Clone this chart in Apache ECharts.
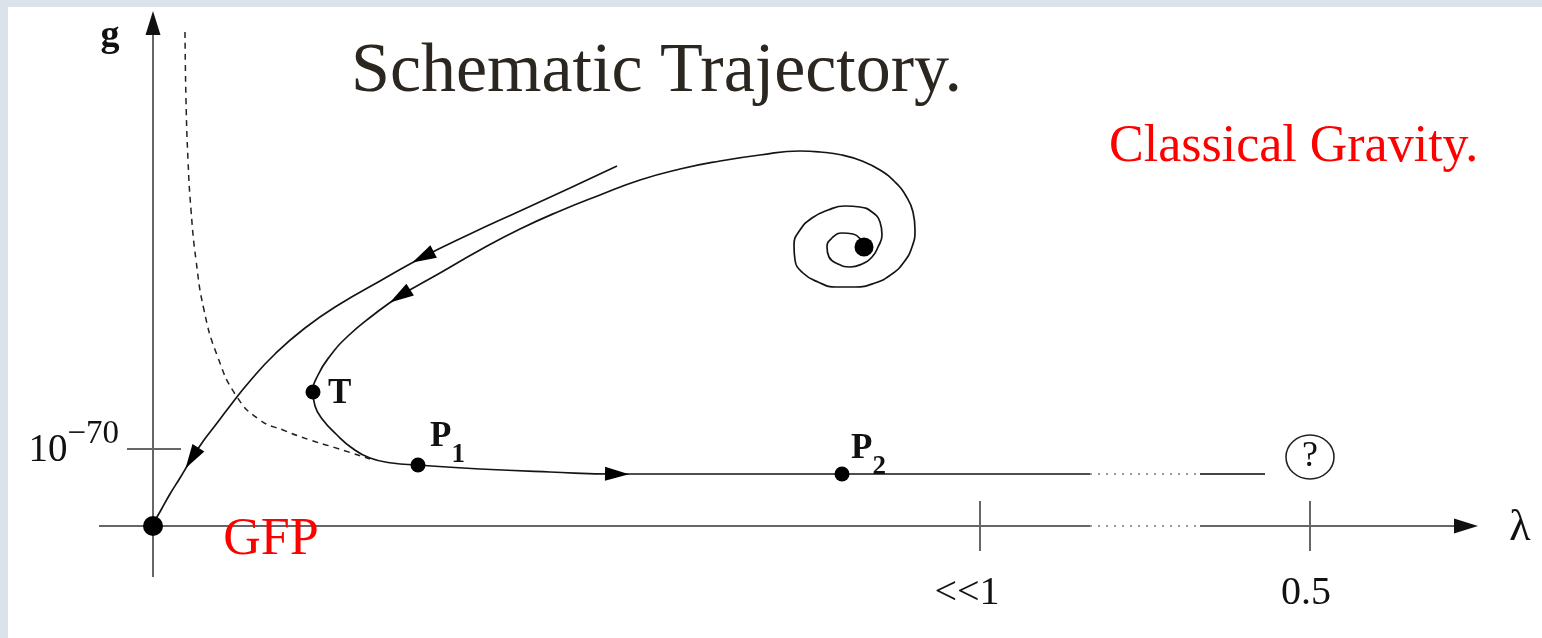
<!DOCTYPE html>
<html>
<head>
<meta charset="utf-8">
<script src="https://cdn.jsdelivr.net/npm/echarts@6/dist/echarts.min.js"></script>
<style>
  html, body { margin: 0; padding: 0; background: #dce2ea; }
  #chart { position: absolute; left: 8px; top: 7px; width: 1534px; height: 631px; background: #ffffff; }
</style>
</head>
<body>
<div id="chart"></div>
<script>
// Flow diagram in the (lambda, g) plane, schematic units with the Gaussian fixed point at the origin.

// Trajectory flowing into the Gaussian fixed point
const outerFlow = [
  [464, 360], [417, 338], [367, 315], [317, 292], [270, 269], [227, 245],
  [187, 222], [152, 198], [122, 172], [97, 145], [77, 120], [61, 99],
  [51, 86], [39, 68], [27, 48], [17, 32], [8, 16], [3, 7], [0, 0]
];

// Trajectory leaving the spiral fixed point, turning at T and running along g ~ const
const innerFlow = [
  [711, 279], [708, 286], [700, 292], [689, 293], [679, 288], [674, 279],
  [676, 269], [685, 262], [697, 259], [709, 262], [719, 269], [725, 279],
  [729, 291], [727, 304], [719, 314], [707, 319], [692, 320], [675, 316],
  [659, 308], [647, 296], [641, 281], [642, 266], [650, 253], [665, 244],
  [683, 239], [702, 239], [722, 243], [739, 252], [751, 264], [759, 279],
  [762, 296], [760, 314], [753, 330], [742, 344], [727, 356], [709, 365],
  [689, 371], [667, 374], [647, 375], [607, 371], [567, 365], [527, 357],
  [487, 346], [447, 331], [407, 315], [367, 297], [327, 276], [287, 253],
  [247, 230], [219, 210], [195, 190], [177, 170], [165, 151], [160, 134],
  [162, 120], [170, 106], [183, 92], [199, 78], [217, 68], [239, 63],
  [265, 61], [327, 57], [397, 54], [464, 52], [547, 52], [689, 52],
  [807, 52], [937, 52]
];
const innerGap = [[937, 52], [1047, 52]];
const innerTail = [[1047, 52], [1112, 52]];

// Separatrix (dashed)
const separatrix = [
  [32, 494], [33, 426], [35, 366], [38, 316], [43, 266], [51, 216],
  [64, 171], [84, 129], [107, 106], [130, 96], [157, 86], [180, 79], [217, 67]
];

// Arrowheads on the trajectories: [curve, point index]
const flowArrows = [['outer', 4], ['outer', 13], ['inner', 48], ['inner', 63]];

// Fixed points and marked points
const fixedPoints = [
  { name: 'GFP', value: [0, 0], size: 20 },
  { name: 'NGFP', value: [711, 279], size: 19 },
  { name: 'T', value: [160, 134], size: 15 },
  { name: 'P1', value: [265, 61], size: 15 },
  { name: 'P2', value: [689, 52], size: 15 }
];

// Axes
const lambdaAxis = [[-54, 0], [937, 0]];
const lambdaGap = [[937, 0], [1047, 0]];
const lambdaTail = [[1047, 0], [1304, 0]];
const gAxis = [[0, -51], [0, 494]];
const lambdaTicks = [{ label: '<<1', x: 827, dx: -13 }, { label: '0.5', x: 1157, dx: -4 }];
const gTick = { y: 77, from: -26, to: 28, label: ['10', '−70'] };
const tickHalf = 25;
const questionMark = [1157, 69];

const curves = { outer: outerFlow, inner: innerFlow };

function heading(pts, i) {
  const a = pts[i - 1], b = pts[i + 1];
  return Math.atan2(b[1] - a[1], b[0] - a[0]) * 180 / Math.PI;
}

const ink = '#141414';
const axisInk = '#666666';
const serif = '"Liberation Serif", "DejaVu Serif", serif';

const arrowData = flowArrows.map(([c, i]) => ({
  value: curves[c][i],
  symbolRotate: heading(curves[c], i) - 90
}));

const axisArrowData = [
  { value: [1313, 0], symbolRotate: -90 },
  { value: [0, 503], symbolRotate: 0 }
];

function seg(data, color, width, type) {
  return {
    type: 'line', data: data, symbol: 'none', silent: true, z: 2,
    lineStyle: { color: color, width: width, type: type || 'solid' }
  };
}

const tickSeries = lambdaTicks.map(t => seg([[t.x, -tickHalf], [t.x, tickHalf]], axisInk, 2));

const pointRich = {
  b: { fontFamily: serif, fontSize: 35, fontWeight: 'bold', lineHeight: 35, verticalAlign: 'top', color: '#111' },
  s: { fontFamily: serif, fontSize: 27, fontWeight: 'bold', lineHeight: 49, verticalAlign: 'bottom', color: '#111' }
};

const chart = echarts.init(document.getElementById('chart'), null, { renderer: 'canvas' });

chart.setOption({
  animation: false,
  backgroundColor: '#ffffff',
  title: [
    {
      text: 'Schematic Trajectory.', left: 338, top: 26,
      textStyle: { fontFamily: serif, fontSize: 70, fontWeight: 'normal', color: '#2b2720' }
    },
    {
      text: 'Classical Gravity.', left: 1096, top: 109,
      textStyle: { fontFamily: serif, fontSize: 52, fontWeight: 'normal', color: '#ff0000' }
    }
  ],
  grid: { left: 0, right: 0, top: 0, bottom: 0 },
  xAxis: { type: 'value', min: -145, max: 1389, show: false },
  yAxis: { type: 'value', min: -112, max: 519, show: false },
  series: [
    seg(lambdaAxis, axisInk, 2),
    seg(lambdaGap, '#9a9a9a', 2, [2, 6]),
    seg(lambdaTail, axisInk, 2),
    seg(gAxis, axisInk, 2),
    seg([[gTick.from, gTick.y], [gTick.to, gTick.y]], axisInk, 2),
    ...tickSeries,
    {
      type: 'scatter', data: axisArrowData, symbol: 'triangle', symbolSize: [15, 24],
      itemStyle: { color: '#111', opacity: 1 }, silent: true, z: 3
    },
    {
      type: 'line', data: outerFlow, smooth: 0.5, symbol: 'none', silent: true, z: 3,
      lineStyle: { color: ink, width: 1.7 }
    },
    {
      type: 'line', data: innerFlow, smooth: 0.5, symbol: 'none', silent: true, z: 3,
      lineStyle: { color: ink, width: 1.7 }
    },
    seg(innerGap, '#9a9a9a', 2, [2, 6]),
    seg(innerTail, '#444', 2),
    {
      type: 'line', data: separatrix, smooth: 0.5, symbol: 'none', silent: true, z: 3,
      lineStyle: { color: '#222', width: 1.5, type: [6, 5] }
    },
    {
      type: 'scatter', data: arrowData, symbol: 'triangle', symbolSize: [14, 24],
      itemStyle: { color: '#000', opacity: 1 }, silent: true, z: 4
    },
    {
      type: 'scatter', silent: true, z: 5,
      data: fixedPoints.map(p => ({ name: p.name, value: p.value, symbolSize: p.size })),
      itemStyle: { color: '#000', opacity: 1 }
    },
    {
      // labels next to the marked points
      type: 'scatter', silent: true, z: 6, symbolSize: 0,
      itemStyle: { opacity: 1 },
      data: [
        { value: fixedPoints[2].value, label: { show: true, position: 'right', distance: 15, offset: [0, 2], formatter: '{b|T}' } },
        { value: fixedPoints[3].value, label: { show: true, position: 'right', distance: 12, offset: [0, -21], formatter: '{b|P}{s|1}' } },
        { value: fixedPoints[4].value, label: { show: true, position: 'right', distance: 9, offset: [0, -18], formatter: '{b|P}{s|2}' } }
      ],
      label: { rich: pointRich }
    },
    {
      type: 'scatter', silent: true, z: 5,
      data: [{ value: questionMark }],
      symbol: 'circle', symbolSize: [48, 44],
      itemStyle: { color: '#fff', borderColor: '#222', borderWidth: 1.5, opacity: 1 },
      label: { show: true, position: 'inside', formatter: '?', fontFamily: serif, fontSize: 36, color: '#111' }
    },
    {
      type: 'scatter', silent: true, z: 6, symbolSize: 0,
      itemStyle: { opacity: 1 },
      data: [
        ...lambdaTicks.map(t => ({ value: [t.x + t.dx, -67], label: { show: true, position: 'inside', formatter: t.label, fontSize: 40 } })),
        { value: [1367, -2], label: { show: true, position: 'inside', formatter: 'λ', fontSize: 44 } },
        { value: [-43, 490], label: { show: true, position: 'inside', formatter: 'g', fontSize: 38, fontWeight: 'bold' } },
        { value: [118, -14], label: { show: true, position: 'inside', formatter: 'GFP', fontSize: 52, color: '#ff0000' } },
        { value: [gTick.from - 8, gTick.y + 5], label: { show: true, position: 'left', distance: 0,
            formatter: '{m|' + gTick.label[0] + '}{e|' + gTick.label[1] + '}',
            rich: {
              m: { fontFamily: serif, fontSize: 39, color: '#111', verticalAlign: 'bottom', padding: [14, 0, 0, 0] },
              e: { fontFamily: serif, fontSize: 33, color: '#111', verticalAlign: 'top' }
            } } }
      ],
      label: { fontFamily: serif, color: '#111' }
    }
  ]
});
</script>
</body>
</html>
